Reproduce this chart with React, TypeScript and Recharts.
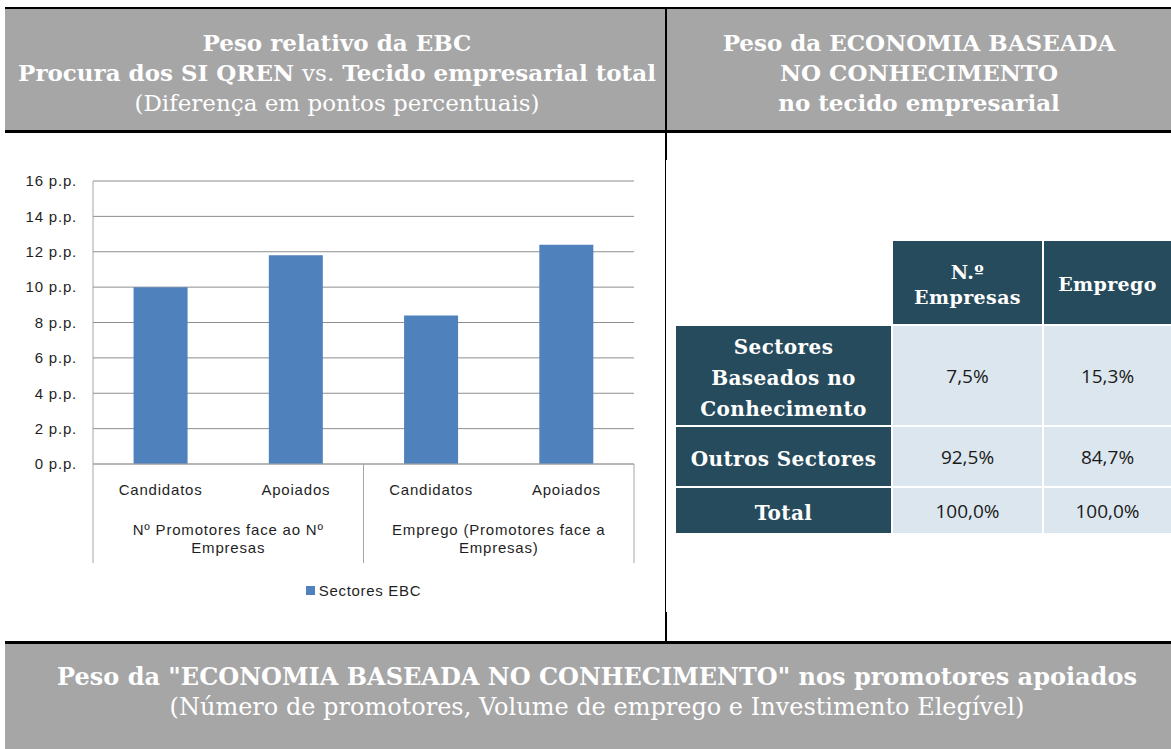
import React from 'react';
import { BarChart, Bar, XAxis, YAxis, CartesianGrid, Legend } from 'recharts';

// chart values
const categories = ['Candidatos', 'Apoiados', 'Candidatos', 'Apoiados'];
const groupOf = [0, 0, 1, 1];
const groupLabels = [
  ['Nº Promotores face ao Nº', 'Empresas'],
  ['Emprego (Promotores face a', 'Empresas)'],
];
const sectoresEBC = [10.0, 11.8, 8.4, 12.4];
const yTicks = [0, 2, 4, 6, 8, 10, 12, 14, 16];

// table values
const tableCols = [['N.º', 'Empresas'], ['Emprego']];
const tableRows = [['Sectores', 'Baseados no', 'Conhecimento'], ['Outros Sectores'], ['Total']];
const empresasShare = ['7,5%', '92,5%', '100,0%'];
const empregoShare = ['15,3%', '84,7%', '100,0%'];

const BAR_COLOR = '#4F81BD';
const GRID = '#8E8E8E';
const AXIS = '#A6A6A6';
const HEAD_GRAY = '#A6A6A6';
const DARK = '#264B5C';
const LIGHT = '#DCE6EE';
const SERIF = '"DejaVu Serif", serif';
const SANS = '"Liberation Sans", Arial, sans-serif';

const chartData = categories.map((c, i) => ({ key: String(i), name: c, value: sectoresEBC[i] }));

const CategoryTick = (props: any) => {
  const { x, y, payload, width, visibleTicksCount } = props;
  const i = payload.index;
  const band = (width || 541) / (visibleTicksCount || categories.length);
  const g = groupOf[i];
  const first = i === 0 || groupOf[i - 1] !== g;
  const last = i === categories.length - 1;
  const n = groupOf.filter((v) => v === g).length;
  const gx = x - band / 2 + (n * band) / 2;
  const txt = { fontFamily: SANS, fontSize: 15, fill: '#1F1F1F', letterSpacing: 0.8 } as const;
  return (
    <g>
      <text x={x} y={y + 31} textAnchor="middle" style={txt}>{categories[i]}</text>
      {first && <line x1={x - band / 2} x2={x - band / 2} y1={y} y2={y + 99} stroke={AXIS} />}
      {last && <line x1={x + band / 2} x2={x + band / 2} y1={y} y2={y + 99} stroke={AXIS} />}
      {first && (
        <text x={gx} y={y + 71} textAnchor="middle" style={txt}>
          <tspan x={gx}>{groupLabels[g][0]}</tspan>
          <tspan x={gx} dy={18}>{groupLabels[g][1]}</tspan>
        </text>
      )}
    </g>
  );
};

const LegendBox = (props: any) => (
  <div style={{ height: 24, display: 'flex', alignItems: 'center', justifyContent: 'center', fontFamily: SANS, fontSize: 15, color: '#1F1F1F', letterSpacing: 0.7 }}>
    {(props.payload || []).map((p: any) => (
      <span key={p.value} style={{ display: 'flex', alignItems: 'center' }}>
        <span style={{ width: 9, height: 9, background: p.color, marginRight: 4, display: 'inline-block' }} />
        {p.value}
      </span>
    ))}
  </div>
);

const Cell = ({ l, t, w, h, bg, children, style }: any) => (
  <div style={{ position: 'absolute', left: l, top: t, width: w, height: h, boxSizing: 'border-box', background: bg, display: 'flex', flexDirection: 'column', alignItems: 'center', justifyContent: 'center', textAlign: 'center', ...style }}>
    {children}
  </div>
);

export default function App() {
  const colX = [[676, 215], [893, 149], [1044, 127]];
  const rowY = [[326, 99], [427, 59], [488, 45]];
  const labelStyle = { fontFamily: SERIF, fontWeight: 'bold', fontSize: 20, color: '#fff', lineHeight: '31px', letterSpacing: 0.4, paddingTop: 6 };
  const valueStyle = { fontFamily: '"Open Sans", sans-serif', fontSize: 19, color: '#1A1A1A' };
  const values = [empresasShare, empregoShare];

  return (
    <div style={{ position: 'absolute', left: 0, top: 0, width: 1171, height: 749, background: '#fff', overflow: 'hidden' }}>
      {/* header */}
      <div style={{ position: 'absolute', left: 5, top: 7, width: 1166, height: 2, background: '#000' }} />
      <div style={{ position: 'absolute', left: 5, top: 9, width: 660, height: 121, background: HEAD_GRAY }} />
      <div style={{ position: 'absolute', left: 667, top: 9, width: 504, height: 121, background: HEAD_GRAY }} />
      <div style={{ position: 'absolute', left: 665, top: 7, width: 2, height: 153, background: '#000' }} />
      <div style={{ position: 'absolute', left: 5, top: 130, width: 1166, height: 3, background: '#000' }} />
      <div style={{ position: 'absolute', left: 5, top: 28, width: 664, textAlign: 'center', fontFamily: SERIF, fontSize: 23, lineHeight: '30px', color: '#fff' }}>
        <div style={{ fontWeight: 'bold' }}>Peso relativo da EBC</div>
        <div style={{ fontWeight: 'bold' }}>Procura dos SI QREN <span style={{ fontWeight: 'normal' }}>vs.</span> Tecido empresarial total</div>
        <div>(Diferença em pontos percentuais)</div>
      </div>
      <div style={{ position: 'absolute', left: 667, top: 28, width: 504, textAlign: 'center', fontFamily: SERIF, fontSize: 23, lineHeight: '30px', color: '#fff', fontWeight: 'bold' }}>
        <div>Peso da ECONOMIA BASEADA</div>
        <div>NO CONHECIMENTO</div>
        <div>no tecido empresarial</div>
      </div>

      {/* divider through body */}
      <div style={{ position: 'absolute', left: 665, top: 160, width: 1, height: 452, background: '#000' }} />
      <div style={{ position: 'absolute', left: 665, top: 612, width: 2, height: 30, background: '#000' }} />

      {/* chart */}
      <div style={{ position: 'absolute', left: 0, top: 133 }}>
        <BarChart width={665} height={508} data={chartData} margin={{ top: 48, right: 31, bottom: 39, left: 0 }} barCategoryGap="30%">
          <CartesianGrid vertical={false} stroke={GRID} />
          <YAxis
            domain={[0, 16]}
            ticks={yTicks}
            interval={0}
            width={93}
            tickLine={false}
            tickSize={0}
            tickMargin={16}
            axisLine={{ stroke: AXIS }}
            tickFormatter={(v: number) => `${v} p.p.`}
            tick={{ fontFamily: SANS, fontSize: 15, fill: '#1F1F1F', letterSpacing: 0.8 } as any}
          />
          <XAxis
            dataKey="key"
            interval={0}
            height={114}
            tickLine={false}
            tickSize={0}
            tickMargin={0}
            axisLine={{ stroke: AXIS }}
            tick={<CategoryTick />}
          />
          <Legend verticalAlign="bottom" wrapperStyle={{ left: 93, width: 541, bottom: 39 }} content={<LegendBox />} />
          <Bar dataKey="value" name="Sectores EBC" fill={BAR_COLOR} isAnimationActive={false} />
        </BarChart>
      </div>

      {/* table */}
      {tableCols.map((lines, c) => (
        <Cell key={'h' + c} l={colX[c + 1][0]} t={241} w={colX[c + 1][1]} h={83} bg={DARK} style={{ ...labelStyle, fontSize: 19, lineHeight: '25px', paddingTop: 4 }}>
          {lines.map((s) => <div key={s}>{s}</div>)}
        </Cell>
      ))}
      {tableRows.map((lines, r) => (
        <React.Fragment key={'r' + r}>
          <Cell l={colX[0][0]} t={rowY[r][0]} w={colX[0][1]} h={rowY[r][1]} bg={DARK} style={labelStyle}>
            {lines.map((s) => <div key={s}>{s}</div>)}
          </Cell>
          {values.map((col, c) => (
            <Cell key={c} l={colX[c + 1][0]} t={rowY[r][0]} w={colX[c + 1][1]} h={rowY[r][1]} bg={LIGHT} style={valueStyle}>
              {col[r]}
            </Cell>
          ))}
        </React.Fragment>
      ))}

      {/* footer */}
      <div style={{ position: 'absolute', left: 5, top: 641, width: 1166, height: 3, background: '#000' }} />
      <div style={{ position: 'absolute', left: 5, top: 644, width: 1166, height: 105, background: HEAD_GRAY }} />
      <div style={{ position: 'absolute', left: 5, top: 662, width: 1184, textAlign: 'center', fontFamily: SERIF, fontSize: 24, lineHeight: '30px', color: '#fff' }}>
        <div style={{ fontWeight: 'bold' }}>Peso da "ECONOMIA BASEADA NO CONHECIMENTO" nos promotores apoiados</div>
        <div>(Número de promotores, Volume de emprego e Investimento Elegível)</div>
      </div>
    </div>
  );
}
